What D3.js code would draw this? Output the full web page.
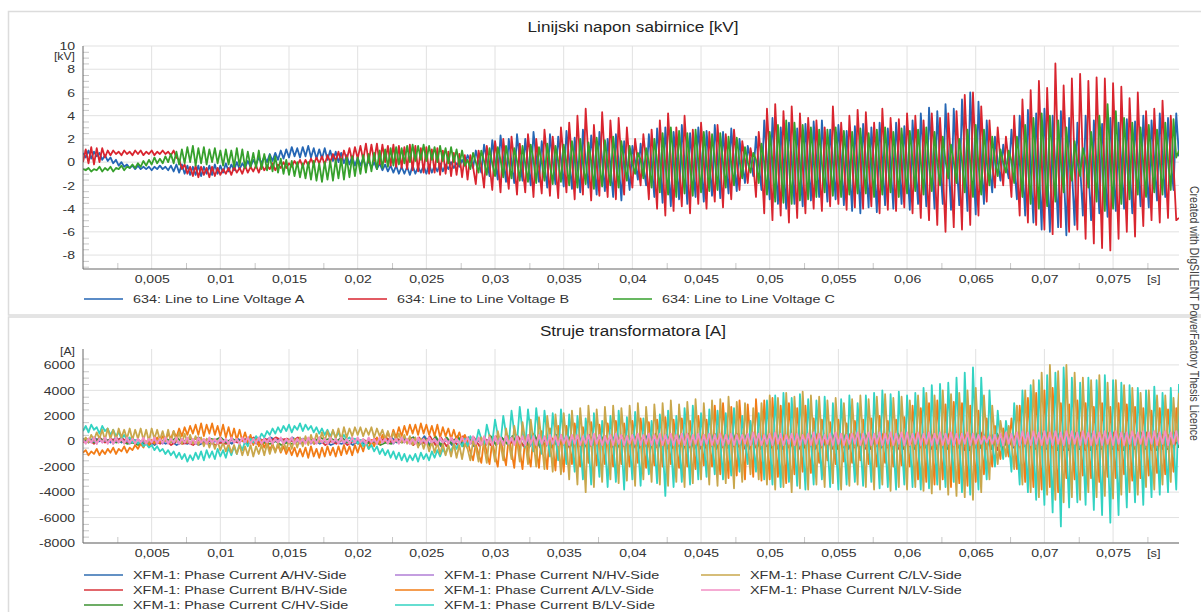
<!DOCTYPE html>
<html><head><meta charset="utf-8">
<script src="https://cdn.jsdelivr.net/npm/d3@7"></script>
<style>
html,body{margin:0;padding:0;background:#fff;}
svg{display:block;font-family:"Liberation Sans",Arial,sans-serif;}
</style></head><body>
<svg id="c" width="1201" height="612"></svg>
<script>
// ---------- DATA ----------
const T_END = 0.0798; // last sample time [s]
const xTicks = [0.005,0.01,0.015,0.02,0.025,0.03,0.035,0.04,0.045,0.05,0.055,0.06,0.065,0.07,0.075];
const xTickLabels = ["0,005","0,01","0,015","0,02","0,025","0,03","0,035","0,04","0,045","0,05","0,055","0,06","0,065","0,07","0,075"];
const xMinorTicks = [0.0025,0.0075,0.0125,0.0175,0.0225,0.0275,0.0325,0.0375,0.0425,0.0475,0.0525,0.0575,0.0625,0.0675,0.0725,0.0775];
const vTicks = [-8,-6,-4,-2,0,2,4,6,8,10];
const aTicks = [-8000,-6000,-4000,-2000,0,2000,4000,6000];
const voltageNames = ["634: Line to Line Voltage A","634: Line to Line Voltage B","634: Line to Line Voltage C"];
const currentNames = ["XFM-1: Phase Current A/HV-Side","XFM-1: Phase Current B/HV-Side","XFM-1: Phase Current C/HV-Side","XFM-1: Phase Current N/HV-Side","XFM-1: Phase Current A/LV-Side","XFM-1: Phase Current B/LV-Side","XFM-1: Phase Current C/LV-Side","XFM-1: Phase Current N/LV-Side"];

// Line to line voltages [kV], samples every 0.2 ms
const voltA = [0.8,0.4,1.0,0.3,0.9,0.5,0.8,0.2,0.6,0.1,0.4,-0.1,0.2,-0.3,0,-0.4,-0.2,-0.5,-0.3,-0.6,
-0.3,-0.6,-0.4,-0.6,-0.4,-0.7,-0.4,-0.6,-0.3,-0.6,-0.4,-0.7,-0.3,-0.8,-0.2,-0.9,-0.2,-1.0,-0.3,-1.1,
-0.4,-1.1,-0.3,-1.2,-0.4,-1.0,-0.3,-1.1,-0.2,-1.0,-0.3,-0.9,-0.1,-0.8,-0.2,-0.7,0,-0.6,-0.1,-0.5,
0.1,-0.4,0.2,-0.2,0.4,-0.1,0.5,0,0.7,0.1,0.8,0.2,1.0,0.3,1.1,0.4,1.3,0.5,1.2,0.4,
1.3,0.5,1.4,0.4,1.2,0.3,1.1,0.3,1.2,0.2,1.0,0.1,0.9,0,0.8,-0.1,0.6,-0.2,0.5,-0.3,
0.4,-0.3,0.3,-0.4,0.1,-0.5,0,-0.6,-0.1,-0.7,-0.2,-0.8,-0.3,-0.9,-0.3,-1.0,-0.4,-1.0,-0.4,-1.1,
-0.3,-1.0,-0.4,-0.9,-0.3,-1.0,-0.2,-0.9,-0.3,-0.8,-0.1,-0.8,-0.2,-0.6,0,-0.5,-0.1,-0.4,0.2,-0.3,
0.6,0.1,-0.5,1.0,0.0,-0.9,1.5,0.2,-1.2,1.9,0.1,-1.5,2.3,0.3,-1.7,2.0,0.0,-1.8,
2.4,0.2,-1.6,2.0,-0.1,-2.0,2.6,0.4,-1.7,1.8,-0.2,-2.2,2.4,0.1,-1.9,2.2,0.3,-2.1,
2.7,0.2,-2.3,2.1,-0.3,-2.6,2.8,0.1,-2.2,2.3,0.0,-2.8,2.6,0.2,-2.5,2.0,-0.2,-3.0,
2.4,0.0,-3.3,1.8,-0.2,-2.4,1.4,0.1,-1.5,1.6,-0.3,-2.0,2.4,-0.1,-3.0,2.9,0.2,-3.5,
3.0,-0.2,-3.8,2.6,0.1,-3.2,3.2,0.0,-3.6,2.5,-0.3,-3.0,3.0,0.2,-3.4,2.7,0.0,-2.9,
3.2,0.3,-3.1,2.6,0.0,-2.7,2.9,0.1,-2.5,2.0,0.0,-1.8,1.4,0.2,-1.2,2.2,-0.1,-2.4,
3.6,0.2,-3.2,3.8,0.0,-3.6,3.0,-0.2,-4.0,3.4,0.1,-3.6,2.9,-0.1,-3.8,3.3,0.0,-3.3,
3.5,0.2,-3.0,3.6,-0.1,-3.4,2.8,0.0,-3.2,3.2,0.2,-3.7,2.7,-0.3,-4.2,3.1,-0.2,-4.4,
3.3,0.0,-3.9,3.0,-0.2,-4.3,3.4,0.1,-3.7,2.9,-0.1,-4.0,3.4,0.2,-3.6,3.1,-0.2,-4.1,
3.6,0.0,-3.6,4.2,0.3,-3.8,4.7,0.2,-4.0,4.4,0.0,-3.6,5.0,0.4,-4.1,4.6,0.1,-3.7,
5.4,0.2,-4.2,6.0,0.4,-4.5,5.2,0.0,-3.6,3.6,-0.2,-2.6,2.2,0.0,-1.6,1.5,-0.1,-1.4,
2.8,-0.3,-3.2,4.0,-0.2,-4.6,4.5,-0.5,-5.2,4.2,-0.3,-5.8,4.6,-0.6,-6.0,4.0,-0.4,-5.6,
4.4,-0.5,-6.3,3.8,-0.6,-5.4,3.4,-0.3,-4.6,4.0,-0.5,-5.0,3.6,-0.2,-4.4,3.3,-0.4,-4.7,
3.8,-0.2,-4.2,3.4,0.0,-4.0,3.7,-0.2,-4.4,3.5,0.1,-3.8,4.0,0.0,-3.9,3.6,0.2,-3.3,
4.2,0.3,-3.0,3.8,0.2,-2.4,4.2,0.5];

const voltB = [0,1.1,-0.1,1.3,-0.2,1.2,0,1.2,0.4,1.0,0.6,1.0,0.7,0.9,0.6,1.0,0.7,0.9,0.6,1.0,
0.7,1.0,0.6,0.9,0.7,1.0,0.6,0.9,0.7,1.0,0.7,0.9,0.6,1.0,0.4,0.2,-0.6,-0.2,-1.0,-0.4,
-1.2,-0.3,-1.3,-0.4,-1.1,-0.5,-1.3,-0.4,-1.2,-0.5,-1.1,-0.6,-1.0,-0.5,-1.1,-0.4,-0.9,-0.5,-1.0,-0.3,
-0.9,-0.4,-0.8,-0.3,-0.9,-0.2,-0.7,-0.3,-0.6,-0.1,-0.7,-0.2,-0.5,0,-0.5,-0.1,-0.4,0.1,-0.3,0.2,
-0.4,0.2,-0.3,0.3,-0.2,0.4,-0.1,0.5,-0.2,0.6,0,0.7,0.1,0.9,0,1.0,0.2,1.2,0.1,1.3,
0.3,1.4,0.2,1.6,0,1.5,0.1,1.6,-0.2,1.5,0,1.4,-0.3,1.5,-0.4,1.4,-0.5,1.3,-0.6,1.5,
-0.7,1.4,-0.8,1.2,-0.9,1.3,-1.0,1.1,-0.9,1.2,-1.1,1.0,-1.0,0.9,-1.2,0.8,-1.1,0.7,-1.3,0.6,
-1.5,0.6,-0.4,-1.9,1.0,-0.3,-2.2,1.4,-0.2,-2.4,1.8,0.1,-2.6,2.0,-0.2,-2.3,2.2,0.0,
-2.8,1.6,-0.3,-2.6,2.4,0.1,-3.0,2.0,-0.4,-2.7,2.8,0.2,-2.9,2.2,-0.1,-3.1,3.0,0.3,
-2.6,3.4,0.2,-3.2,4.0,0.0,-2.8,4.6,0.4,-3.3,3.2,-0.2,-2.9,4.3,0.1,-3.0,3.6,0.3,
-3.2,3.8,0.0,-2.8,3.0,-0.2,-2.2,2.0,0.0,-2.0,2.4,0.1,-3.2,2.8,-0.3,-4.0,3.6,0.0,
-4.6,4.2,0.2,-4.2,3.0,-0.3,-3.8,4.0,0.1,-4.4,2.8,-0.2,-3.6,3.4,0.0,-4.0,2.6,-0.4,
-3.4,3.2,0.1,-3.9,2.4,-0.2,-3.2,2.8,0.0,-2.4,1.8,0.2,-1.8,1.2,-0.1,-3.0,2.6,0.0,
-4.4,4.6,0.3,-5.0,5.0,0.0,-4.6,4.4,-0.2,-5.2,4.8,0.1,-4.8,4.2,-0.3,-4.4,3.8,0.0,
-4.0,3.6,-0.2,-4.2,3.0,0.0,-3.8,4.8,0.2,-3.6,3.4,-0.1,-4.1,4.0,0.1,-3.9,4.5,0.2,
-4.0,4.3,0.0,-3.8,3.4,-0.2,-4.4,4.6,0.1,-4.1,3.8,0.0,-4.2,3.7,-0.2,-3.9,4.2,0.1,
-4.4,4.0,-0.2,-4.8,3.6,-0.3,-5.0,4.2,0.0,-5.4,3.8,-0.4,-6.0,4.2,-0.2,-5.6,4.4,0.0,
-5.8,5.8,0.2,-5.4,6.0,0.1,-4.6,4.8,0.0,-3.4,3.6,-0.2,-2.2,3.0,0.1,-2.0,2.2,0.0,
-3.0,4.0,-0.2,-4.6,5.4,0.0,-5.2,6.2,-0.3,-5.4,7.0,0.1,-5.8,6.4,-0.2,-6.2,8.5,0.2,
-5.6,6.6,0.0,-6.0,7.2,-0.3,-5.8,7.6,0.1,-6.6,7.0,-0.2,-7.0,7.3,0.0,-7.4,7.2,-0.3,
-7.6,6.8,0.0,-6.6,6.5,-0.2,-6.0,5.5,0.1,-6.4,6.0,-0.3,-5.5,4.4,0.0,-5.0,4.6,-0.2,
-5.2,5.3,0.0,-4.8,4.0,-0.2,-5.0,-4.8];

const voltC = [-0.6,-0.7,-0.5,-0.8,-0.6,-0.7,-0.4,-0.8,-0.5,-0.7,-0.4,-0.8,-0.5,-0.6,-0.3,-0.7,-0.4,-0.5,-0.2,-0.5,
-0.1,-0.4,0.1,-0.3,0.2,-0.2,0.4,-0.1,0.3,-0.1,0.5,0,0.7,-0.1,0.9,-0.2,1.1,-0.1,1.3,0,
1.4,-0.3,1.2,-0.1,1.3,-0.2,1.1,0,1.2,-0.1,1.0,-0.3,1.1,-0.2,1.0,-0.4,1.2,-0.3,1.1,-0.5,
0.9,-0.4,0.8,-0.5,1.0,-0.6,0.7,-0.7,0.6,-0.8,0.5,-0.9,0.3,-1.0,0.2,-1.1,0.1,-1.2,0,-1.3,
-0.1,-1.4,0,-1.5,0.1,-1.6,-0.1,-1.7,0,-1.5,0.1,-1.6,0.2,-1.4,0.3,-1.5,0.4,-1.3,0.5,-1.2,
0.4,-1.0,0.6,-0.9,0.7,-0.8,0.8,-0.6,1.0,-0.5,1.1,-0.4,1.2,-0.3,1.3,-0.2,1.2,-0.1,1.4,0,
1.5,0.1,1.4,0.2,1.5,0.1,1.4,0.2,1.3,0,1.4,0.1,1.2,-0.1,1.3,0,1.1,-0.2,1.0,-0.3,
0.2,-0.6,0.8,0.0,-0.9,1.0,0.1,-1.1,1.2,-0.1,-1.2,1.3,0.2,-1.3,1.4,0.0,-1.4,1.2,
0.1,-1.6,1.4,-0.1,-1.7,1.5,0.2,-1.8,1.3,0.0,-1.6,1.6,-0.2,-1.9,1.4,0.1,-1.7,1.5,
0.0,-2.0,1.8,0.2,-2.2,2.0,-0.1,-1.9,1.7,0.1,-2.3,2.1,0.0,-2.1,1.9,-0.2,-2.0,2.2,
0.1,-2.2,1.8,0.0,-1.6,1.4,-0.1,-1.0,0.8,0.2,-1.4,1.2,0.0,-2.2,2.0,0.1,-2.6,2.5,
-0.1,-2.8,3.0,0.2,-3.0,2.7,0.0,-2.7,2.5,-0.2,-2.9,2.8,0.1,-2.6,2.6,0.0,-2.5,2.4,
0.2,-2.4,2.5,0.0,-2.2,2.2,-0.1,-2.0,2.1,0.1,-1.4,1.3,0.0,-0.9,0.8,0.2,-1.8,1.6,
0.0,-2.8,2.6,0.1,-3.4,3.2,-0.2,-3.5,3.6,0.0,-3.6,3.4,0.2,-3.3,3.2,0.0,-3.2,3.0,
0.1,-3.0,2.8,-0.1,-2.6,2.8,0.0,-2.9,3.0,0.2,-3.0,2.7,0.0,-2.8,2.6,-0.1,-2.7,2.9,
0.0,-2.7,2.5,0.1,-3.0,2.8,-0.2,-2.8,3.0,0.0,-2.6,2.6,0.1,-3.0,2.9,0.0,-2.7,2.7,
0.2,-2.5,2.8,0.0,-2.8,3.0,-0.1,-2.5,2.6,0.0,-2.0,2.2,0.1,-1.4,1.5,0.0,-1.8,2.0,
0.1,-2.6,2.8,0.0,-3.0,3.2,-0.2,-2.8,2.8,0.0,-2.0,2.2,0.1,-1.2,1.1,0.0,-0.9,1.0,
0.1,-1.8,2.2,0.0,-3.0,3.2,-0.2,-3.6,3.8,0.1,-4.0,4.2,0.0,-3.8,4.0,-0.1,-3.4,3.6,
0.0,-2.6,3.0,0.1,-1.6,1.8,0.0,-1.2,1.2,0.2,-2.2,2.6,0.0,-3.4,4.0,0.3,-4.2,5.0,
0.1,-4.0,4.4,0.0,-3.6,3.8,0.2,-3.2,3.4,0.0,-2.8,3.0,-0.1,-3.0,3.2,0.1,-2.6,2.8,
0.0,-2.8,3.4,0.2,-2.4,3.7,0.4,1.0];

// Transformer currents [A]; HV-side A/B/C every 0.4 ms, the rest every 0.2 ms
const curAHV = [200,-100,300,0,200,-100,300,-100,200,0,100,-200,0,-300,100,-200,0,-300,-100,-200,
0,-300,-100,-200,0,-100,100,-200,200,0,300,-100,200,0,300,100,200,-100,300,0,
200,-100,100,-200,0,-300,-100,-200,0,-300,100,-200,0,-100,200,0,300,-100,200,100,
300,-200,400,-300,300,-400,200,-300,400,-200,300,-400,200,-300,400,-300,300,-200,400,-300,
500,-400,400,-500,300,-400,500,-300,400,-500,300,-400,500,-400,400,-300,500,-500,400,-400,
500,-500,600,-400,500,-600,400,-500,600,-400,500,-600,400,-500,600,-400,500,-500,600,-400,
500,-600,400,-500,600,-400,500,-600,400,-500,300,-400,500,-600,400,-500,600,-400,500,-600,
600,-500,500,-600,400,-500,600,-400,500,-600,400,-500,600,-400,500,-600,400,-500,600,-400,
500,-700,600,-500,700,-600,500,-700,600,-500,400,-300,300,-400,500,-600,700,-500,600,-700,
700,-600,600,-700,500,-600,700,-500,600,-700,500,-600,700,-500,600,-700,500,-600,700,-500];

const curBHV = [-100,200,-200,300,-100,200,0,300,-100,200,-200,100,-300,0,-200,100,-300,0,-200,-100,
-300,100,-200,0,-300,-100,-200,100,-100,200,0,300,-100,200,0,300,100,200,0,300,
-100,200,-200,100,-300,0,-200,100,-300,0,-200,100,-100,200,0,300,-100,200,0,100,
-300,300,-200,400,-300,300,-400,200,-300,400,-200,300,-400,200,-300,400,-300,300,-200,400,
-400,500,-500,400,-400,300,-300,500,-500,400,-400,300,-400,500,-300,400,-500,500,-400,400,
-500,500,-400,600,-500,400,-600,500,-400,600,-500,400,-600,500,-400,600,-500,500,-400,600,
-600,500,-500,400,-400,600,-600,500,-500,400,-600,500,-400,600,-500,400,-600,500,-500,600,
-500,600,-600,500,-400,600,-500,400,-600,500,-400,600,-500,500,-600,400,-500,600,-400,500,
-700,600,-500,700,-600,500,-700,600,-500,400,-300,300,-400,500,-600,700,-500,600,-700,500,
-600,700,-700,600,-600,500,-500,700,-700,600,-600,500,-500,700,-700,600,-600,500,-500,600];

const curCHV = [0,100,-100,200,0,100,-100,0,-200,-100,-300,0,-200,100,-100,200,0,300,-100,200,
100,300,0,200,100,300,-100,200,0,100,-200,0,-300,-100,-200,0,-300,-100,-200,0,
-100,200,0,300,100,200,0,300,-100,200,0,100,-200,0,-300,-100,-200,0,-100,100,
300,-300,200,-400,400,-300,300,-200,400,-400,300,-300,200,-400,400,-300,300,-200,400,-300,
400,-500,500,-400,300,-500,400,-300,500,-400,400,-500,300,-400,500,-400,400,-500,300,-400,
500,-500,400,-600,600,-400,500,-500,400,-600,600,-500,500,-400,400,-600,600,-500,500,-400,
600,-500,500,-600,400,-500,600,-400,500,-600,400,-500,600,-500,500,-400,400,-600,600,-500,
500,-600,600,-500,500,-400,400,-600,600,-500,500,-600,400,-500,600,-400,500,-600,500,-500,
600,-700,700,-500,500,-600,600,-700,400,-300,300,-400,500,-600,700,-500,600,-700,500,-600,
700,-600,600,-700,500,-500,700,-600,600,-700,500,-500,700,-600,600,-700,500,-600,700,-500];

const curNHV = [100,-100,200,-100,100,-200,200,-100,100,-100,200,-200,100,-100,200,-100,100,-200,200,-100,
200,-100,100,-200,200,-100,100,-100,200,-200,100,-100,200,-100,100,-200,200,-100,100,-200,
100,-200,200,-100,100,-100,200,-200,100,-100,200,-100,100,-200,200,-100,100,-100,200,-200,
200,-100,100,-200,200,-100,100,-200,200,-100,100,-100,200,-200,100,-100,200,-100,100,-200,
100,-100,200,-200,100,-100,200,-100,100,-200,200,-100,100,-100,200,-200,100,-100,200,-100,
200,-200,100,-100,200,-100,100,-200,200,-100,100,-100,200,-200,100,-100,200,-100,100,-200,
100,-100,200,-200,100,-100,200,-100,100,-200,200,-100,100,-100,200,-200,100,-100,200,-100,
200,-200,300,-100,200,-300,300,-200,200,-100,300,-200,200,-300,300,-100,200,-200,300,-200,
300,-200,200,-300,300,-200,400,-300,300,-200,200,-300,400,-200,300,-300,200,-200,300,-300,
300,-300,400,-200,300,-300,400,-300,300,-200,400,-300,300,-300,400,-200,300,-300,400,-300,
400,-300,300,-400,400,-300,300,-300,400,-400,300,-300,400,-300,300,-400,400,-300,300,-300,
300,-400,400,-300,300,-300,400,-400,300,-300,400,-300,300,-400,400,-300,300,-300,400,-400,
400,-300,300,-400,400,-300,500,-400,300,-300,400,-400,500,-300,400,-400,300,-300,400,-400,
500,-400,400,-300,400,-400,500,-300,400,-400,300,-300,500,-400,400,-300,400,-400,500,-300,
400,-400,500,-300,400,-400,500,-400,400,-300,500,-400,400,-400,500,-300,400,-400,500,-400,
500,-300,400,-400,500,-400,400,-300,500,-400,400,-400,500,-300,400,-400,500,-400,400,-300,
500,-400,400,-400,300,-300,200,-200,200,-100,200,-200,300,-200,300,-300,400,-300,500,-400,
500,-500,600,-400,500,-500,600,-500,500,-400,600,-500,500,-500,600,-400,500,-500,600,-500,
600,-400,500,-500,600,-500,500,-400,600,-500,500,-500,600,-400,500,-500,600,-500,500,-400,
500,-500,600,-400,500,-500,600,-500,500,-400,600,-500,500,-400,600,-500,500,-400,500,-300];

const curALV = [-900,-700,-1100,-800,-1000,-600,-1100,-700,-1000,-600,-900,-500,-1000,-600,-800,-400,-900,-500,-700,-300,
-600,-200,-500,0,-300,100,-200,300,-100,400,100,600,200,800,300,1000,400,1100,500,1200,
600,1300,500,1400,400,1300,600,1400,500,1200,400,1300,300,1100,200,1000,100,900,0,700,
-100,500,-300,300,-400,100,-500,0,-700,-200,-800,-300,-900,-400,-1000,-500,-1100,-500,-1200,-600,
-1200,-500,-1300,-400,-1200,-600,-1300,-500,-1200,-400,-1100,-500,-1200,-400,-1100,-300,-1000,-400,-1100,-300,
-900,-200,-800,0,-600,100,-400,300,-200,500,0,700,100,900,300,1100,400,1200,500,1300,
600,1300,500,1400,600,1300,500,1200,400,1300,300,1100,400,1000,200,900,100,700,0,500,
0,-800,-1500,-200,-1000,-1700,100,-900,-1800,0,-1100,-2000,200,-900,-1900,400,-800,-2100,
500,-700,-2200,300,-900,-2000,600,-600,-2100,800,-500,-2200,1000,-300,-2300,1200,-200,-2400,
1200,0,-1800,1400,-100,-2000,1100,200,-1700,1500,0,-1900,1300,-200,-1800,1400,100,-2000,
1600,0,-1800,1400,-200,-2000,1600,100,-1700,1800,0,-2100,1500,-100,-1900,1700,200,-2000,
1900,0,-1800,1700,-200,-2100,1800,100,-2000,1600,0,-2200,2000,200,-1900,1700,-100,-2000,
2800,100,-2600,3000,0,-2900,2700,-200,-2700,3200,100,-3000,2900,0,-2800,3300,200,-3100,
3200,0,-3000,3400,100,-2800,2800,-100,-3300,3000,200,-2600,2600,0,-2400,2800,-100,-2500,
1800,0,-1700,1700,100,-1500,1500,-100,-1800,1700,0,-1600,1400,100,-1700,1600,0,-1500,
1700,-100,-1800,1800,0,-2000,2000,100,-1700,1600,0,-2000,1700,-100,-1900,1900,0,-2000,
2800,0,-3000,2600,100,-3200,3000,0,-3400,3200,-100,-3000,2900,0,-3600,3100,100,-3300,
3000,0,-3500,2800,-100,-3200,2400,0,-2600,1800,0,-2000,1200,0,-1400,1000,0,-1200,
1800,0,-2200,2800,100,-3200,3400,0,-3600,3800,-100,-3800,4000,0,-3600,4200,100,-4000,
3000,0,-2900,2900,-100,-3000,3200,0,-2700,3000,100,-2900,2700,0,-3200,3000,0,-2800,
2700,0,-2900,3000,-100,-2600,2900,0,-3100,2700,100,-2900,2600,0,-2700,2400,0,-2500,
2600,0,-2600,2500,0,-2400,2600,0];

const curBLV = [800,1200,700,1300,900,1100,600,1200,800,1000,500,900,400,700,200,500,100,300,-100,100,
-200,0,-400,-200,-500,-300,-700,-400,-800,-600,-1000,-700,-1100,-800,-1300,-900,-1400,-1000,-1600,-1100,
-1500,-900,-1400,-800,-1500,-700,-1300,-800,-1400,-600,-1200,-700,-1300,-500,-1100,-400,-1000,-200,-700,0,
-400,200,-100,400,100,600,300,800,500,1000,600,1100,700,1200,800,1300,700,1200,900,1400,
800,1300,900,1200,700,1100,600,1000,500,900,400,800,300,700,200,500,100,300,0,200,
-200,100,-400,-100,-600,-300,-800,-400,-1000,-600,-1100,-700,-1300,-800,-1400,-900,-1500,-1000,-1600,-1100,
-1500,-1000,-1600,-900,-1400,-1000,-1500,-800,-1300,-700,-1200,-600,-1000,-400,-800,-200,-600,0,-400,200,
-400,400,0,-200,900,200,-300,1300,400,-100,1700,500,-200,2000,600,-300,2400,700,
-100,2700,800,-500,2500,600,-800,2600,500,-1000,2400,400,-1200,2200,300,-1500,2500,200,
-1800,2100,100,-2400,2000,0,-3000,1800,-100,-3400,2200,0,-2800,1600,-200,-3600,2000,0,
-3200,2400,0,-3800,1900,-100,-3000,2300,0,-3500,1800,-200,-2600,1600,0,-3300,2100,-100,
-4300,2400,0,-3600,2000,-100,-3200,2600,0,-3400,2800,100,-3000,2200,0,-2800,2500,-100,
-2600,2400,0,-3000,2200,-100,-2700,2600,0,-2400,2000,0,-1800,1600,0,-2400,2200,0,
-3000,3200,0,-3400,3600,100,-3600,3800,0,-3200,3400,-100,-3500,3700,0,-3800,3300,100,
-3400,3200,0,-3000,3500,-100,-3600,3000,0,-3800,3300,100,-3400,3600,0,-3200,3000,-100,
-3500,3600,0,-3200,3800,100,-3700,4000,0,-3600,3700,-100,-3800,3900,0,-3400,3600,100,
-3600,3800,0,-3800,4200,100,-3700,4400,0,-3400,4500,-100,-3600,4600,0,-3200,5000,100,
-4000,5400,0,-4200,5800,100,-3800,5000,0,-3000,4000,-100,-2000,2400,0,-1400,1600,0,
-2400,3000,0,-3400,4000,100,-4000,4400,0,-4600,4800,-100,-5000,5200,0,-5600,5400,100,
-6700,5800,0,-5200,5000,-100,-4800,4600,0,-5000,5000,100,-5400,4800,0,-5800,5200,-100,
-6400,4800,0,-5800,4600,100,-5200,4400,0,-4800,4200,-100,-5000,4000,0,-4400,4300,100,
-4200,3800,0,-4000,4200,100,-3800,4500];

const curCLV = [0,300,-100,500,100,700,200,900,100,1000,200,900,100,1000,300,900,200,1000,100,900,
200,1000,100,900,0,1000,200,900,100,800,0,900,-100,800,0,700,-200,600,-100,500,
-200,400,-300,300,-400,200,-500,100,-600,0,-700,-100,-800,-200,-900,-300,-1000,-300,-1100,-400,
-1100,-300,-1200,-400,-1000,-300,-1100,-200,-1000,-300,-900,-100,-800,0,-700,100,-600,200,-500,300,
-400,400,-300,500,-200,600,-100,700,0,800,100,900,200,1000,100,1100,300,1000,400,1100,
500,1100,400,1000,500,1100,300,1000,400,900,200,800,100,700,0,600,-100,500,-200,400,
-300,300,-500,200,-600,100,-800,0,-900,-100,-1000,-200,-1100,-300,-1200,-200,-1300,-300,-1400,-200,
-600,-1500,0,-500,-1600,300,-400,-1700,500,-300,-1600,800,-200,-1500,1000,-100,-1400,1200,
0,-1600,1500,100,-1800,1700,0,-2000,1900,-100,-2200,2000,100,-2400,2100,0,-2600,2200,
0,-3000,2400,-100,-3400,2600,0,-4000,2800,100,-3600,2500,0,-3200,2700,-100,-3000,2800,
0,-3300,2600,100,-3100,2800,0,-3500,3000,-100,-3000,2700,0,-3200,2900,100,-3400,3000,
0,-3500,3200,-100,-3200,2900,0,-3600,3100,100,-3300,3300,0,-3000,3000,-100,-3400,3200,
0,-3500,3300,100,-3300,3500,0,-3700,3100,-100,-3200,3000,0,-2600,2600,100,-3000,3000,
0,-3400,3600,100,-3800,3400,0,-3600,3800,-100,-4000,3500,0,-3700,3900,100,-3800,3600,
0,-3400,3500,-100,-3600,3200,0,-3300,3400,100,-3800,3000,0,-3500,3300,-100,-3400,3600,
0,-3600,3300,100,-3800,3500,0,-3400,3700,-100,-3900,3400,0,-3600,3500,100,-3800,3200,
0,-3600,3600,100,-3900,3800,0,-4100,3600,-100,-3800,4000,0,-4200,3700,100,-4300,3800,
0,-4400,4000,100,-4600,4200,0,-4000,3600,-100,-3000,2800,0,-1800,1600,100,-1200,1200,
0,-2200,2800,100,-3400,4000,0,-4000,4800,-100,-4400,5400,0,-4200,6000,100,-4600,5500,
0,-4800,6000,-100,-4400,5400,0,-4600,5000,100,-4000,4800,0,-4400,5200,-100,-4300,4600,
0,-4500,4800,100,-4200,4400,0,-4000,4200,-100,-4200,3800,0,-3600,4000,100,-3800,3600,
0,-3400,3600,100,-3200,3400,0,3800];

const curNLV = [100,-200,200,-100,300,-200,200,-100,300,-200,200,-200,300,-100,200,-200,300,-100,200,-200,
200,-100,300,-200,200,-100,300,-200,200,-100,300,-200,200,-100,300,-200,200,-100,300,-200,
200,-200,300,-100,200,-200,300,-100,200,-200,300,-100,200,-200,300,-100,200,-200,300,-100,
300,-200,200,-100,300,-200,200,-100,300,-200,200,-100,300,-200,200,-100,300,-200,200,-100,
200,-200,300,-100,200,-200,300,-100,200,-200,300,-100,200,-200,300,-100,200,-200,300,-100,
300,-100,200,-200,300,-100,200,-200,300,-100,200,-200,300,-100,200,-200,300,-100,200,-200,
200,-200,300,-100,200,-200,300,-100,200,-200,300,-100,200,-200,300,-100,200,-200,300,-100,
300,-200,400,-200,300,-300,400,-200,300,-300,400,-200,300,-300,400,-200,300,-300,400,-200,
400,-300,500,-200,400,-300,500,-200,400,-300,500,-200,400,-300,500,-200,400,-300,500,-200,
500,-300,400,-200,500,-300,600,-200,500,-300,400,-200,500,-300,600,-200,500,-300,400,-200,
500,-200,600,-300,500,-200,600,-300,500,-200,600,-300,500,-200,600,-300,500,-200,600,-300,
600,-300,500,-200,600,-300,500,-200,600,-300,500,-200,600,-300,500,-200,600,-300,500,-200,
500,-200,600,-300,700,-200,600,-300,500,-200,600,-300,700,-200,600,-300,500,-200,600,-300,
600,-300,500,-200,600,-300,700,-200,600,-300,500,-200,600,-300,700,-200,600,-300,500,-200,
600,-200,700,-300,600,-200,700,-300,600,-200,700,-300,600,-200,700,-300,600,-200,700,-300,
700,-300,600,-200,700,-300,600,-200,700,-300,600,-200,700,-300,600,-200,700,-300,600,-200,
600,-200,700,-300,600,-200,500,-200,400,-100,400,-200,500,-200,600,-300,700,-200,600,-300,
700,-300,800,-200,700,-300,800,-200,700,-300,800,-200,700,-300,800,-200,700,-300,800,-200,
800,-200,700,-300,800,-200,700,-300,800,-200,700,-300,800,-200,700,-300,800,-200,700,-300,
700,-200,800,-300,700,-200,800,-300,700,-200,800,-300,700,-200,800,-300,700,-200,800,-200];

const voltageSeries = [voltA, voltB, voltC];
const currentSeries = [curAHV, curBHV, curCHV, curNHV, curALV, curBLV, curCLV, curNLV];
const voltageColors = ["#2566b4","#d9252f","#36a02c"];
const currentColors = ["#2f6cb0","#d9353b","#3c9232","#b07ed6","#f27c16","#33d3c2","#c9a74c","#f28fc4"];

// ---------- DRAW ----------
const svg = d3.select("#c");
const PL = 83, PR = 1179;
const TEXT_STRETCH = 1.22;
const x = d3.scaleLinear().domain([0, T_END]).range([PL, PR]);

// panels
svg.append("rect").attr("x",8.5).attr("y",11.5).attr("width",1220).attr("height",303.5)
  .attr("fill","none").attr("stroke","#dcdcdc").attr("stroke-width",1.5);
svg.append("rect").attr("x",8.5).attr("y",317).attr("width",1220).attr("height",320)
  .attr("fill","none").attr("stroke","#dcdcdc").attr("stroke-width",1.5);

function drawPanel(cfg) {
  const g = svg.append("g");
  const y = d3.scaleLinear().domain(cfg.domain).range([cfg.bottom, cfg.top]);
  const clipId = "clip" + cfg.id;
  g.append("clipPath").attr("id", clipId).append("rect")
    .attr("x", PL).attr("y", cfg.top - 2).attr("width", PR - PL).attr("height", cfg.bottom - cfg.top + 2);

  g.append("text").attr("class","st").attr("x", 633).attr("y", cfg.titleY).attr("text-anchor","middle")
    .attr("font-size", 14).attr("fill","#222").text(cfg.title);

  // grid
  g.append("g").selectAll("line").data(xTicks).join("line")
    .attr("x1", d=>x(d)).attr("x2", d=>x(d)).attr("y1", cfg.top).attr("y2", cfg.bottom)
    .attr("stroke","#e1e1e1").attr("stroke-width",1);
  g.append("g").selectAll("line").data(cfg.ticks).join("line")
    .attr("x1", PL).attr("x2", PR).attr("y1", d=>y(d)).attr("y2", d=>y(d))
    .attr("stroke","#e1e1e1").attr("stroke-width",1);

  // minor ticks (inside)
  const yMinor = g.append("g").attr("transform", `translate(${PL},0)`)
    .call(d3.axisRight(y).tickValues(cfg.minor).tickSize(6).tickFormat(""));
  yMinor.select(".domain").remove();
  yMinor.selectAll("line").attr("stroke","#c8c8c8");
  const xMinor = g.append("g").attr("transform", `translate(0,${cfg.bottom})`)
    .call(d3.axisTop(x).tickValues(xMinorTicks).tickSize(6).tickFormat(""));
  xMinor.select(".domain").remove();
  xMinor.selectAll("line").attr("stroke","#c8c8c8");

  // series
  const gl = g.append("g").attr("clip-path", `url(#${clipId})`);
  cfg.series.forEach((s, k) => {
    const n = s.length;
    const line = d3.line().x((d,i)=>x(i * T_END / (n - 1))).y(d=>y(d));
    gl.append("path").datum(s).attr("d", line).attr("fill","none")
      .attr("stroke", cfg.colors[k]).attr("stroke-width", 1.8).attr("stroke-linejoin","round");
  });

  // axes
  const ya = g.append("g").attr("transform", `translate(${PL},0)`)
    .call(d3.axisLeft(y).tickValues(cfg.ticks).tickSize(0).tickPadding(8).tickFormat(d=>String(d)));
  ya.select(".domain").attr("stroke","#666").attr("d", `M0,${cfg.top}V${cfg.bottom}`);
  ya.selectAll("text").attr("class","st").attr("font-size",11.5).attr("fill","#333")
    .attr("font-family","Liberation Sans, Arial, sans-serif");

  const xa = g.append("g").attr("transform", `translate(0,${cfg.bottom})`)
    .call(d3.axisBottom(x).tickValues(xTicks).tickSize(0).tickPadding(6)
      .tickFormat((d,i)=>xTickLabels[i]));
  xa.select(".domain").attr("stroke","#666").attr("d", `M${PL},0H${PR}`);
  xa.selectAll("text").attr("class","st").attr("font-size",11.5).attr("fill","#333")
    .attr("font-family","Liberation Sans, Arial, sans-serif");

  // units
  g.append("text").attr("class","st").attr("x", 75).attr("y", cfg.unitY).attr("text-anchor","end")
    .attr("font-size", 10).attr("fill","#333").text(cfg.unit);
  g.append("text").attr("class","st").attr("x", 1147).attr("y", cfg.bottom + 14).attr("text-anchor","start")
    .attr("font-size", 10.5).attr("fill","#333").text("[s]");

  // legend
  const lg = g.append("g");
  cfg.legend.forEach((it) => {
    lg.append("line").attr("x1", it.x).attr("x2", it.x + 39).attr("y1", it.y).attr("y2", it.y)
      .attr("stroke", it.color).attr("stroke-width", 1.6);
    lg.append("text").attr("class","st").attr("x", it.x + 49).attr("y", it.y + 4.2).attr("font-size", 11.8)
      .attr("fill","#333").text(it.name);
  });
}

drawPanel({
  id: "v", title: "Linijski napon sabirnice [kV]", titleY: 32,
  domain: [-9.2, 10], top: 46, bottom: 269,
  ticks: vTicks, minor: d3.range(-9, 10, 0.5).filter(v => Math.abs(v % 2) > 0.01),
  series: voltageSeries, colors: voltageColors,
  unit: "[kV]", unitY: 60,
  legend: [
    {x: 84, y: 299, color: voltageColors[0], name: voltageNames[0]},
    {x: 348, y: 299, color: voltageColors[1], name: voltageNames[1]},
    {x: 613, y: 299, color: voltageColors[2], name: voltageNames[2]}
  ]
});

drawPanel({
  id: "a", title: "Struje transformatora [A]", titleY: 336,
  domain: [-8000, 7250], top: 349, bottom: 543,
  ticks: aTicks, minor: d3.range(-7500, 7000, 500).filter(v => v % 2000 !== 0),
  series: currentSeries, colors: currentColors,
  unit: "[A]", unitY: 355,
  legend: [
    {x: 84, y: 575, color: currentColors[0], name: currentNames[0]},
    {x: 84, y: 590, color: currentColors[1], name: currentNames[1]},
    {x: 84, y: 605, color: currentColors[2], name: currentNames[2]},
    {x: 395, y: 575, color: currentColors[3], name: currentNames[3]},
    {x: 395, y: 590, color: currentColors[4], name: currentNames[4]},
    {x: 395, y: 605, color: currentColors[5], name: currentNames[5]},
    {x: 701, y: 575, color: currentColors[6], name: currentNames[6]},
    {x: 701, y: 590, color: currentColors[7], name: currentNames[7]}
  ]
});

// the reference renders all texts horizontally widened
svg.selectAll("text.st").each(function() {
  const w = this.getComputedTextLength();
  if (w > 0) d3.select(this).attr("textLength", w * TEXT_STRETCH).attr("lengthAdjust", "spacingAndGlyphs");
});

// vertical watermark text at the right edge
svg.append("text").attr("transform","translate(1190,186) scale(1.2,1) rotate(90)")
  .attr("font-size", 10.5).attr("fill","#444").text("Created with DIgSILENT PowerFactory Thesis Licence");
</script>
</body></html>
